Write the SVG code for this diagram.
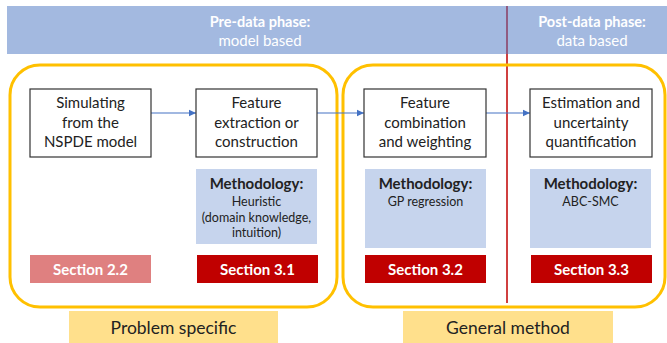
<svg xmlns="http://www.w3.org/2000/svg" width="667" height="343" viewBox="0 0 667 343">
<style>
.box{fill:#fff;stroke:#333;stroke-width:1.2}
.meth{fill:#c6d4ed}
.t{font-family:Lato,"Open Sans",sans-serif;font-size:15px;fill:#222;text-anchor:middle}
.mh{font-family:Lato,"Open Sans",sans-serif;font-size:15px;font-weight:bold;fill:#222;text-anchor:middle}
.ms{font-family:Lato,"Open Sans",sans-serif;font-size:12.5px;fill:#222;text-anchor:middle}
.sec{font-family:Lato,"Open Sans",sans-serif;font-size:15px;font-weight:bold;fill:#fff;text-anchor:middle}
.hb{font-family:Lato,"Open Sans",sans-serif;font-size:14.5px;font-weight:bold;fill:#fff;text-anchor:middle}
.hn{font-family:Lato,"Open Sans",sans-serif;font-size:15px;fill:#fff;text-anchor:middle}
.lab{font-family:Lato,"Open Sans",sans-serif;font-size:17.5px;fill:#222;text-anchor:middle}
.grp{fill:none;stroke:#ffc000;stroke-width:3}
.conn{stroke:#4472c4;stroke-width:1.2;fill:none;marker-end:url(#ah)}
</style>
<defs>
<marker id="ah" markerWidth="8" markerHeight="8" refX="7" refY="4" orient="auto" markerUnits="userSpaceOnUse">
<path d="M0,0.8 L7,4 L0,7.2 Z" fill="#4472c4"/>
</marker>
</defs>
<g id="header">
<rect x="7" y="6" width="660" height="48" fill="#a3b9e0"/>
<text class="hb" x="260" y="27">Pre-data phase:</text>
<text class="hn" x="260" y="46">model based</text>
<text class="hb" x="592" y="27">Post-data phase:</text>
<text class="hn" x="592" y="46">data based</text>
</g>
<g id="divider">
<line x1="507" y1="6" x2="507" y2="54" stroke="#8a3c62" stroke-width="1.5"/>
<line x1="507" y1="54" x2="507" y2="303" stroke="#c00000" stroke-width="1.5"/>
</g>
<g id="group-problem"><rect class="grp" x="10" y="65" width="327" height="242" rx="30"/></g>
<g id="group-general"><rect class="grp" x="343" y="65" width="322" height="242" rx="30"/></g>
<g id="connectors">
<line class="conn" x1="151" y1="113" x2="196" y2="113"/>
<line class="conn" x1="317" y1="113" x2="364" y2="113"/>
<line class="conn" x1="486" y1="113" x2="530" y2="113"/>
</g>
<g id="node-simulating">
<rect class="box" x="30" y="89" width="121" height="68"/>
<text class="t" x="90.5" y="108">Simulating</text>
<text class="t" x="90.5" y="128">from the</text>
<text class="t" x="90.5" y="147">NSPDE model</text>
</g>
<g id="node-extraction">
<rect class="box" x="196" y="89" width="121" height="68"/>
<text class="t" x="256.5" y="108">Feature</text>
<text class="t" x="256.5" y="128">extraction or</text>
<text class="t" x="256.5" y="147">construction</text>
</g>
<g id="node-combination">
<rect class="box" x="364" y="89" width="122" height="68"/>
<text class="t" x="425" y="108">Feature</text>
<text class="t" x="425" y="128">combination</text>
<text class="t" x="425" y="147">and weighting</text>
</g>
<g id="node-estimation">
<rect class="box" x="530" y="89" width="122" height="68"/>
<text class="t" x="591" y="108">Estimation and</text>
<text class="t" x="591" y="128">uncertainty</text>
<text class="t" x="591" y="147">quantification</text>
</g>
<g id="meth-heuristic">
<rect class="meth" x="196" y="169" width="121" height="75"/>
<text class="mh" x="256.5" y="189">Methodology:</text>
<text class="ms" x="256.5" y="206">Heuristic</text>
<text class="ms" x="256.5" y="222">(domain knowledge,</text>
<text class="ms" x="256.5" y="237">intuition)</text>
</g>
<g id="meth-gp">
<rect class="meth" x="365" y="169" width="121" height="79"/>
<text class="mh" x="425.5" y="189">Methodology:</text>
<text class="ms" x="425.5" y="206">GP regression</text>
</g>
<g id="meth-abc">
<rect class="meth" x="530" y="169" width="121" height="79"/>
<text class="mh" x="590.5" y="189">Methodology:</text>
<text class="ms" x="590.5" y="206">ABC-SMC</text>
</g>
<g id="sec-2-2">
<rect x="30" y="255" width="121" height="28" fill="#df8080"/>
<text class="sec" x="90.5" y="275">Section 2.2</text>
</g>
<g id="sec-3-1">
<rect x="197" y="255" width="121" height="28" fill="#c00000"/>
<text class="sec" x="257.5" y="275">Section 3.1</text>
</g>
<g id="sec-3-2">
<rect x="365" y="255" width="121" height="28" fill="#c00000"/>
<text class="sec" x="425.5" y="275">Section 3.2</text>
</g>
<g id="sec-3-3">
<rect x="531" y="255" width="121" height="28" fill="#c00000"/>
<text class="sec" x="591.5" y="275">Section 3.3</text>
</g>
<g id="label-problem">
<rect x="69" y="311" width="209" height="32" fill="#ffe08c"/>
<text class="lab" x="173.5" y="334">Problem specific</text>
</g>
<g id="label-general">
<rect x="403" y="311" width="210" height="32" fill="#ffe08c"/>
<text class="lab" x="508" y="334">General method</text>
</g>
</svg>
